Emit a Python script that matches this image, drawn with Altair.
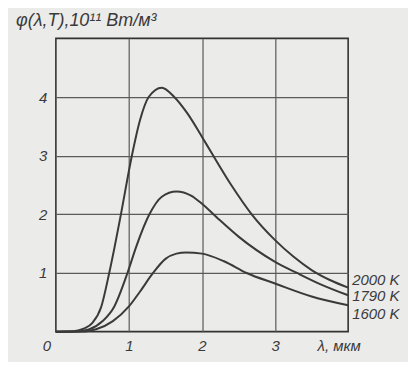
import altair as alt
import pandas as pd

# wavelength (µm) and spectral density (10^11 W/m^3)
lam_2000 = [0.0, 0.2, 0.3, 0.4, 0.5, 0.62, 0.73, 0.8, 0.89, 1.04, 1.15, 1.27, 1.45, 1.62, 1.8, 2.0, 2.13, 2.4, 2.68, 3.0, 3.25, 3.5, 3.75, 4.0]
phi_2000 = [0.0, 0.003, 0.02, 0.06, 0.15, 0.42, 1.0, 1.42, 2.0, 3.0, 3.6, 4.0, 4.16, 4.0, 3.72, 3.32, 3.05, 2.5, 2.0, 1.56, 1.28, 1.05, 0.88, 0.75]

lam_1790 = [0.0, 0.3, 0.46, 0.64, 0.8, 0.98, 1.1, 1.28, 1.45, 1.65, 1.85, 2.0, 2.2, 2.5, 3.0, 3.3, 3.6, 4.0]
phi_1790 = [0.0, 0.004, 0.04, 0.18, 0.43, 1.0, 1.45, 2.0, 2.3, 2.39, 2.32, 2.18, 1.95, 1.62, 1.19, 1.0, 0.82, 0.62]

lam_1600 = [0.0, 0.4, 0.55, 0.78, 1.0, 1.15, 1.33, 1.5, 1.65, 1.78, 2.0, 2.3, 2.61, 3.0, 3.5, 4.0]
phi_1600 = [0.0, 0.004, 0.04, 0.18, 0.43, 0.68, 1.0, 1.24, 1.33, 1.35, 1.33, 1.2, 1.0, 0.82, 0.6, 0.45]

series = ["2000 K", "1790 K", "1600 K"]
x_ticks = [1, 2, 3]
y_ticks = [1, 2, 3, 4]
extra_x_labels = ["0", "λ, мкм"]
extra_x_pos = [0, 4]

rows = []
for name, xs_, ys_ in zip(series, [lam_2000, lam_1790, lam_1600], [phi_2000, phi_1790, phi_1600]):
    for i, (a, b) in enumerate(zip(xs_, ys_)):
        rows.append({"T": name, "lam": a, "phi": b, "last": i == len(xs_) - 1})
df = pd.DataFrame(rows)

FONT = "Liberation Sans"
INK = "#3a3a3a"
GRID = "#5a5a5a"

xs = alt.Scale(domain=[0, 4], nice=False)
ys = alt.Scale(domain=[0, 5], nice=False)

base = alt.Chart(df)

lines = base.mark_line(interpolate="monotone", color=INK, strokeWidth=2).encode(
    x=alt.X("lam:Q", scale=xs,
            axis=alt.Axis(values=x_ticks, format="d", title=None, grid=True, ticks=False,
                          domain=False, labelFont=FONT, labelFontSize=15,
                          labelFontStyle="italic", labelColor=INK, labelPadding=7,
                          gridColor=GRID, gridWidth=1.2, gridOpacity=1)),
    y=alt.Y("phi:Q", scale=ys,
            axis=alt.Axis(values=y_ticks, format="d", title=None, grid=True, ticks=False,
                          domain=False, labelFont=FONT, labelFontSize=15,
                          labelFontStyle="italic", labelColor=INK, labelPadding=9,
                          gridColor=GRID, gridWidth=1.2, gridOpacity=1)),
    detail="T:N",
)

label_dy = [-8, 1, 9]
label_layers = []
for name, dy in zip(series, label_dy):
    label_layers.append(
        base.transform_filter((alt.datum.T == name) & alt.datum.last)
        .mark_text(align="left", baseline="middle", dx=4, dy=dy, font=FONT,
                   fontSize=15, fontStyle="italic", color=INK)
        .encode(x=alt.X("lam:Q", scale=xs), y=alt.Y("phi:Q", scale=ys), text="T:N")
    )

axis_label = alt.Chart(pd.DataFrame({"lam": extra_x_pos, "phi": [0, 0], "t": extra_x_labels})).mark_text(
    align="center", baseline="top", dx=-9, dy=7, font=FONT, fontSize=15,
    fontStyle="italic", color=INK
).encode(x=alt.X("lam:Q", scale=xs), y=alt.Y("phi:Q", scale=ys), text="t:N")

chart = alt.layer(lines, *label_layers, axis_label).properties(
    width=293, height=294,
    title=alt.TitleParams("φ(λ,T),10¹¹ Вт/м³", anchor="start", frame="group", dx=-40,
                          offset=8, font=FONT, fontSize=18, fontStyle="italic",
                          fontWeight="normal", color=INK),
    background="#ebebea",
    padding={"left": 48, "top": 30, "right": 60, "bottom": 30},
    autosize=alt.AutoSizeParams(type="none"),
).configure_view(stroke="#333333", strokeWidth=1.6)

chart.save("out.html", embed_options={"renderer": "svg", "actions": False})
